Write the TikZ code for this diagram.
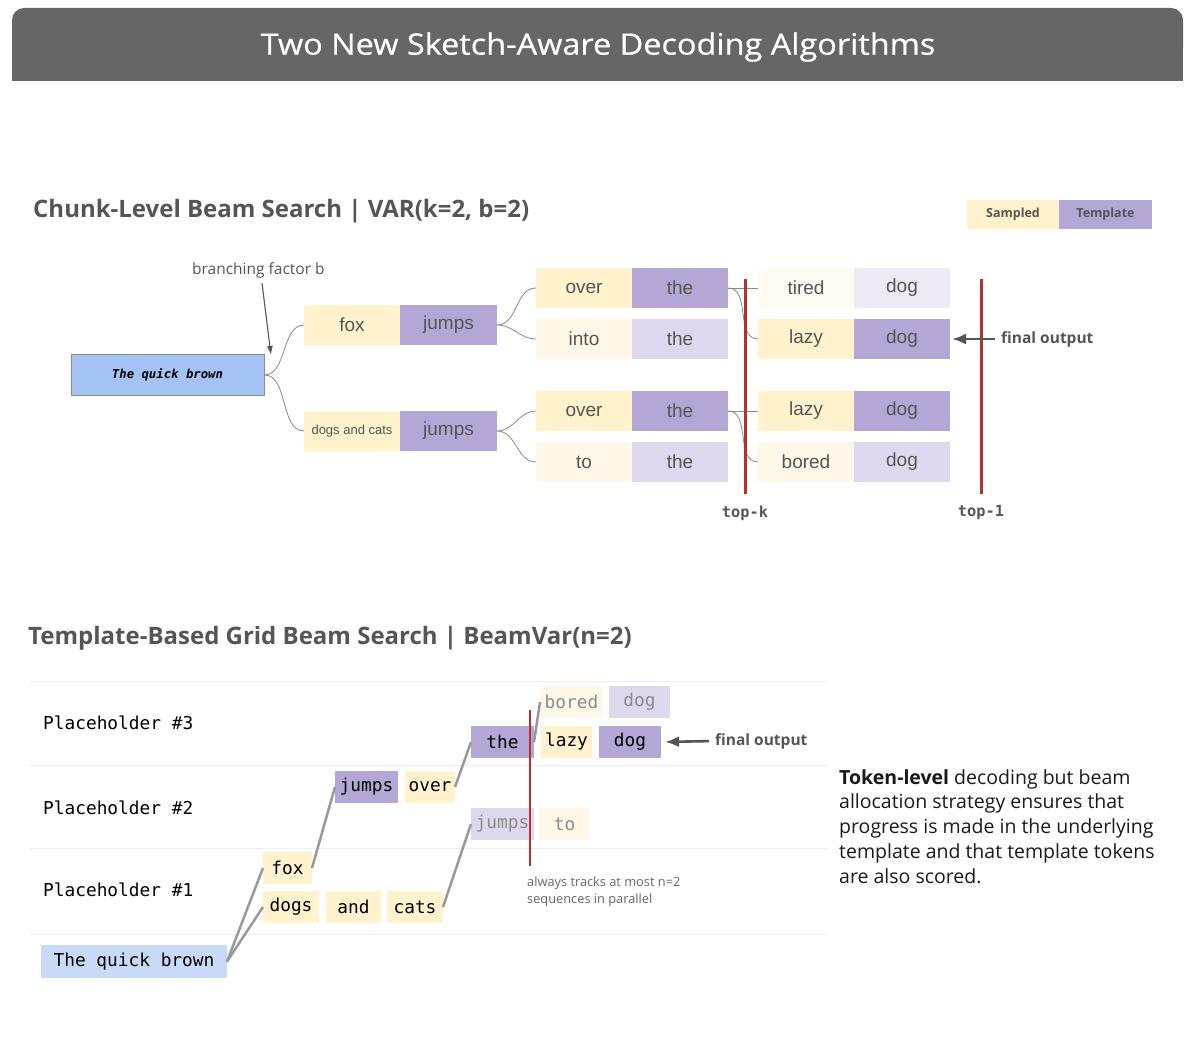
\documentclass[tikz,border=0pt]{standalone}
\usepackage{fontspec}
\setmainfont{Open Sans}
\newfontfamily\arialf{Liberation Sans}
\newfontfamily\monof{DejaVu Sans Mono}
\newfontfamily\titlef[FakeStretch=1.1,FakeBold=0.6]{Open Sans}
\usetikzlibrary{arrows.meta}
\definecolor{hdr}{HTML}{666666}
\definecolor{samp}{HTML}{FFF2CC}
\definecolor{sampF}{HTML}{FFF8E8}
\definecolor{sampFF}{HTML}{FFFBF3}
\definecolor{tmpl}{HTML}{B4A7D6}
\definecolor{tmplF}{HTML}{DDD8EE}
\definecolor{tmplFF}{HTML}{EDEAF5}
\definecolor{blueN}{HTML}{A4C2F4}
\definecolor{blueL}{HTML}{C9DAF8}
\definecolor{redL}{HTML}{B7312C}
\definecolor{txt}{HTML}{555555}
\definecolor{tokt}{HTML}{555555}
\definecolor{lineG}{HTML}{999999}
\definecolor{sepG}{HTML}{EEEEEE}
\tikzset{
  tok/.style={inner sep=0pt, outer sep=0pt, text=tokt, font=\arialf\fontsize{19}{22}\selectfont},
  tokA/.style={tok, minimum width=96pt, minimum height=40pt},
  btok/.style={inner sep=0pt, outer sep=0pt, minimum height=32pt, text=black, font=\monof\fontsize{17.8}{20}\selectfont},
  conn/.style={draw=lineG!90!black, line width=0.8pt},
  gconn/.style={draw=lineG, line width=2.5pt},
  redbar/.style={draw=redL, line width=3pt},
  garrow/.style={draw=tokt, line width=2.6pt, -{Latex[length=14pt,width=11pt]}},
  heading/.style={anchor=west, text=txt, font=\bfseries\fontsize{24}{28}\selectfont, inner sep=0pt},
}
\begin{document}
\begin{tikzpicture}[x=1pt,y=-1pt]
\useasboundingbox (0,0) rectangle (1200,1049);
% header
\fill[hdr, rounded corners=12pt] (12,8) rectangle (1183,60);
\fill[hdr] (12,40) rectangle (1183,81);
\node[text=white, font=\titlef\fontsize{29.5}{34}\selectfont] (title) at (598,47) {Two New Sketch-Aware Decoding Algorithms};

% ---------- section 1 ----------
\node[heading] (h1) at (33,211) {Chunk-Level Beam Search | VAR(k=2, b=2)};
\node[fill=samp, minimum width=92pt, minimum height=29pt, inner sep=0pt, text=tokt, font=\bfseries\fontsize{12.5}{15}\selectfont] (lgS) at (1013,214.5) {Sampled};
\node[fill=tmpl, minimum width=93pt, minimum height=29pt, inner sep=0pt, text=tokt, font=\bfseries\fontsize{12.5}{15}\selectfont] (lgT) at (1105.5,214.5) {Template};

\node[fill=blueN, draw=black!45, line width=0.8pt, minimum width=193pt, minimum height=41pt, inner sep=0pt,
      font=\monof\bfseries\itshape\fontsize{12.3}{14}\selectfont] (qb) at (167.5,375) {The quick brown};
\node[anchor=west, text=tokt, font=\fontsize{15.5}{19}\selectfont, inner sep=0pt] (bf) at (192,270) {branching factor b};
\coordinate (bfa) at (262,283);
\coordinate (bfb) at (271,355);
\draw[draw=tokt, line width=1.1pt, -{Latex[length=9pt,width=6pt]}] (bfa) -- (bfb);

\node[tokA, fill=samp] (fox) at (352,325) {fox};
\node[tokA, fill=tmpl, minimum width=97pt] (j1) at (448.5,325) {jumps};
\node[tokA, fill=samp, font=\arialf\fontsize{13}{15}\selectfont] (dac) at (352,431) {dogs and cats};
\node[tokA, fill=tmpl, minimum width=97pt] (j2) at (448.5,431) {jumps};

\node[tokA, fill=samp] (ov1) at (584,288) {over};
\node[tokA, fill=tmpl] (th1) at (680,288) {the};
\node[tokA, fill=sampF] (into) at (584,339) {into};
\node[tokA, fill=tmplF] (th2) at (680,339) {the};
\node[tokA, fill=samp] (ov2) at (584,411) {over};
\node[tokA, fill=tmpl] (th3) at (680,411) {the};
\node[tokA, fill=sampF] (to1) at (584,462) {to};
\node[tokA, fill=tmplF] (th4) at (680,462) {the};

\node[tokA, fill=sampFF] (tired) at (806,288) {tired};
\node[tokA, fill=tmplFF] (dA) at (902,288) {dog};
\node[tokA, fill=samp] (lz1) at (806,339) {lazy};
\node[tokA, fill=tmpl] (dB) at (902,339) {dog};
\node[tokA, fill=samp] (lz2) at (806,411) {lazy};
\node[tokA, fill=tmpl] (dC) at (902,411) {dog};
\node[tokA, fill=sampF] (bored) at (806,462) {bored};
\node[tokA, fill=tmplF] (dD) at (902,462) {dog};

\draw[conn] (qb.east) to[out=0,in=180,looseness=0.9] (fox.west);
\draw[conn] (qb.east) to[out=0,in=180,looseness=0.9] (dac.west);
\draw[conn] (j1.east) to[out=0,in=180] (ov1.west);
\draw[conn] (j1.east) to[out=0,in=180] (into.west);
\draw[conn] (j2.east) to[out=0,in=180] (ov2.west);
\draw[conn] (j2.east) to[out=0,in=180] (to1.west);
\draw[conn] (th1.east) -- (tired.west);
\draw[conn] (th1.east) to[out=0,in=180] (lz1.west);
\draw[conn] (th3.east) -- (lz2.west);
\draw[conn] (th3.east) to[out=0,in=180] (bored.west);

\coordinate (tk1) at (745,279);
\coordinate (tk2) at (745,494);
\draw[redbar] (tk1) -- (tk2);
\coordinate (t11) at (981,279);
\coordinate (t12) at (981,494);
\draw[redbar] (t11) -- (t12);
\node[font=\monof\bfseries\fontsize{15.3}{18}\selectfont, text=tokt] (topk) at (745,513) {top-k};
\node[font=\monof\bfseries\fontsize{15.3}{18}\selectfont, text=tokt] (top1) at (981,513) {top-1};

\node[anchor=west, inner sep=0pt, font=\bfseries\fontsize{15.5}{19}\selectfont, text=tokt] (fo1) at (1001,339) {final output};
\draw[garrow, shorten <=6pt, shorten >=2pt] (fo1.west) -- (dB.east);

% ---------- section 2 ----------
\node[heading] (h2) at (28,638) {Template-Based Grid Beam Search | BeamVar(n=2)};
\foreach \yy/\nm in {681/s1,765/s2,848/s3,934/s4} {
  \coordinate (\nm a) at (30,\yy);
  \coordinate (\nm b) at (828,\yy);
  \draw[sepG, line width=1pt] (\nm a) -- (\nm b);
}
\node[anchor=west, inner sep=0pt, font=\monof\fontsize{17.8}{20}\selectfont] (p3) at (43,723) {Placeholder \#3};
\node[anchor=west, inner sep=0pt, font=\monof\fontsize{17.8}{20}\selectfont] (p2) at (43,808) {Placeholder \#2};
\node[anchor=west, inner sep=0pt, font=\monof\fontsize{17.8}{20}\selectfont] (p1) at (43,890) {Placeholder \#1};

\node[btok, fill=blueL, minimum width=186pt, minimum height=33pt] (qb2) at (134,961.5) {The quick brown};
\node[btok, fill=samp, minimum width=49pt] (fox2) at (287.5,868) {fox};
\node[btok, fill=samp, minimum width=56pt] (dogs2) at (291,907) {dogs};
\node[btok, fill=samp, minimum width=55pt] (and2) at (353.5,907) {and};
\node[btok, fill=samp, minimum width=56pt] (cats2) at (415,907) {cats};
\node[btok, fill=tmpl, minimum width=63pt] (jB) at (366.5,787) {jumps};
\node[btok, fill=samp, minimum width=50pt] (ovB) at (430,787) {over};
\node[btok, fill=tmpl, minimum width=63pt] (thB) at (502.5,742) {the};
\node[btok, fill=tmplF, minimum width=63pt, text=black!45] (jF) at (502.5,824) {jumps};
\node[btok, fill=sampF, minimum width=49pt, text=black!45] (toF) at (564.5,824) {to};
\node[btok, fill=sampF, minimum width=63pt, text=black!45] (boF) at (571.5,702) {bored};
\node[btok, fill=tmplF, minimum width=61pt, text=black!45] (dgF) at (639.5,702) {dog};
\node[btok, fill=samp, minimum width=51pt] (lzB) at (566.5,742) {lazy};
\node[btok, fill=tmpl, minimum width=62pt] (dgB) at (630,742) {dog};

\draw[gconn] (qb2.east) -- (fox2.west);
\draw[gconn] (qb2.east) -- (dogs2.west);
\draw[gconn] (fox2.east) -- (jB.west);
\draw[gconn] (ovB.east) -- (thB.west);
\draw[gconn] (cats2.east) -- (jF.west);
\draw[gconn] (thB.east) -- (boF.west);

\coordinate (rb1) at (530,710);
\coordinate (rb2) at (530,866);
\draw[redbar, line width=2.4pt] (rb1) -- (rb2);

\node[anchor=west, inner sep=0pt, font=\bfseries\fontsize{15.5}{19}\selectfont, text=tokt] (fo2) at (715,741) {final output};
\draw[garrow, shorten <=6pt, shorten >=4pt] (fo2.west) -- (dgB.east);

\node[anchor=north west, inner sep=0pt, align=left, text=black!60, font=\fontsize{12.8}{16.5}\selectfont] (note) at (527,877) {always tracks at most n=2\\sequences in parallel};

\node[anchor=north west, inner sep=0pt, align=left, text=black!90, font=\fontsize{19.5}{24.8}\selectfont] (desc) at (839,769)
  {\textbf{Token-level} decoding but beam\\allocation strategy ensures that\\progress is made in the underlying\\template and that template tokens\\are also scored.};
\end{tikzpicture}
\end{document}
